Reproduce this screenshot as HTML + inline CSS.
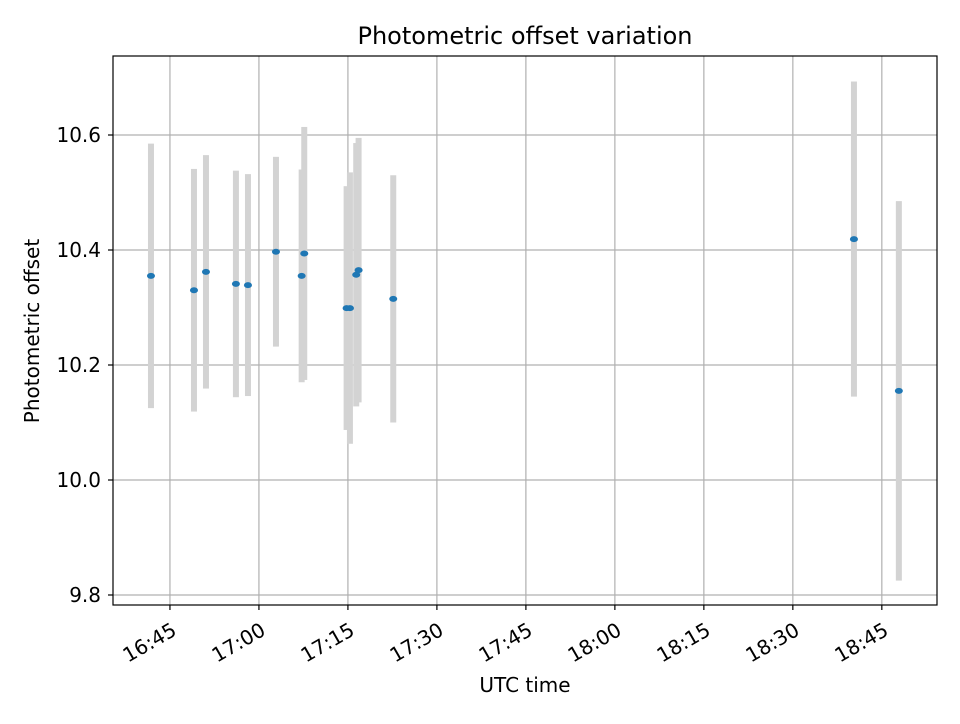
<!DOCTYPE html>
<html><head><meta charset="utf-8"><style>
body{margin:0;background:#fff;font-family:"DejaVu Sans","Liberation Sans",sans-serif;}
svg text{font-family:"DejaVu Sans","Liberation Sans",sans-serif;fill:#000;}
</style></head><body>
<svg id="chart" width="960" height="720" xmlns="http://www.w3.org/2000/svg">
<rect width="960" height="720" fill="#fff"/>
<g id="grid"></g>
<g id="bars"></g>
<g id="pts"></g>
<rect x="113" y="56" width="824" height="549" fill="none" stroke="#000" stroke-width="1.2"/>
<g id="ticks"></g>
<text x="525" y="44" font-size="24" text-anchor="middle">Photometric offset variation</text>
<text x="525" y="692" font-size="20" text-anchor="middle">UTC time</text>
<text transform="translate(39,331) rotate(-90)" font-size="20" text-anchor="middle">Photometric offset</text>
</svg>
<script>
// minutes after 16:45
const times = [-3.2,4.05,6.07,11.12,13.15,17.87,22.2,22.64,29.78,30.34,31.4,31.8,37.64,115.3,122.87];
const values = [10.355,10.330,10.362,10.341,10.339,10.397,10.355,10.394,10.299,10.299,10.357,10.365,10.315,10.419,10.155];
const errors = [0.230,0.211,0.203,0.197,0.193,0.165,0.185,0.220,0.212,0.236,0.229,0.230,0.215,0.274,0.330];
const yTicks = [9.8,10.0,10.2,10.4,10.6];
const yTickLabels = ["9.8","10.0","10.2","10.4","10.6"];
const xTicks = [0,15,30,45,60,75,90,105,120];
const xTickLabels = ["16:45","17:00","17:15","17:30","17:45","18:00","18:15","18:30","18:45"];

const X0=113,X1=937,Y0=56,Y1=605;
const xmin=-9.6,xmax=129.3,ymin=9.7826,ymax=10.7374;
const xs=m=>X0+(m-xmin)/(xmax-xmin)*(X1-X0);
const ys=v=>Y1-(v-ymin)/(ymax-ymin)*(Y1-Y0);
const NS="http://www.w3.org/2000/svg";
function mk(tag,attrs,parent){const e=document.createElementNS(NS,tag);for(const k in attrs)e.setAttribute(k,attrs[k]);document.getElementById(parent).appendChild(e);return e;}

xTicks.forEach((t,i)=>{
  const x=xs(t);
  const g=mk('line',{x1:x,x2:x,y1:Y0,y2:Y1,stroke:'#b0b0b0','stroke-width':1.2},'grid');
  
  
  const tk=mk('line',{x1:x,x2:x,y1:Y1,y2:Y1+5,stroke:'#000','stroke-width':1.2},'ticks');
  
  
  const tx=mk('text',{transform:`translate(${x+8},${Y1+29}) rotate(-30)`,'font-size':20,'text-anchor':'end'},'ticks');
  tx.textContent=xTickLabels[i];
  
  
});
yTicks.forEach((t,i)=>{
  const y=ys(t);
  const g=mk('line',{x1:X0,x2:X1,y1:y,y2:y,stroke:'#b0b0b0','stroke-width':1.2},'grid');
  
  
  const tk=mk('line',{x1:X0-5,x2:X0,y1:y,y2:y,stroke:'#000','stroke-width':1.2},'ticks');
  
  
  const tx=mk('text',{x:X0-12,y:y+7,'font-size':20,'text-anchor':'end'},'ticks');
  tx.textContent=yTickLabels[i];
  
  
});
times.forEach((t,i)=>{
  const x=xs(t);
  const b=mk('rect',{x:x-3,y:ys(values[i]+errors[i]),width:6,height:ys(values[i]-errors[i])-ys(values[i]+errors[i]),fill:'#d3d3d3'},'bars');
  
  
});
times.forEach((t,i)=>{
  const p=mk('ellipse',{cx:xs(t),cy:ys(values[i]),rx:4,ry:3,fill:'#1f77b4'},'pts');
  
  
});
</script>
</body></html>
